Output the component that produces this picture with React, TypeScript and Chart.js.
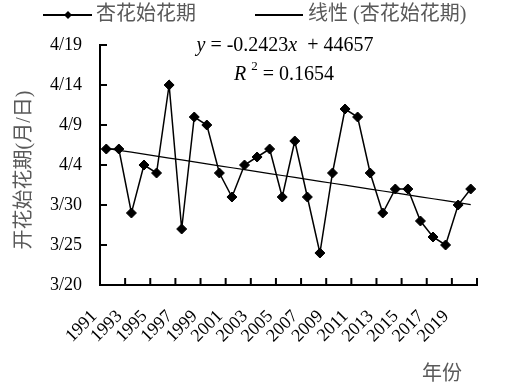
import React, { useEffect, useRef } from "react";
import { Chart, registerables } from "chart.js";

Chart.register(...registerables);

// ---- data ----
const YEARS: string[] = [
  "1991", "1992", "1993", "1994", "1995", "1996", "1997", "1998", "1999", "2000",
  "2001", "2002", "2003", "2004", "2005", "2006", "2007", "2008", "2009", "2010",
  "2011", "2012", "2013", "2014", "2015", "2016", "2017", "2018", "2019", "2020",
];
const FIRST_BLOOM: string[] = [
  "4/6", "4/6", "3/29", "4/4", "4/3", "4/14", "3/27", "4/10", "4/9", "4/3",
  "3/31", "4/4", "4/5", "4/6", "3/31", "4/7", "3/31", "3/24", "4/3", "4/11",
  "4/10", "4/3", "3/29", "4/1", "4/1", "3/28", "3/26", "3/25", "3/30", "4/1",
];
const Y_MIN = "3/20";
const Y_MAX = "4/19";
const Y_STEP_DAYS = 5;
const SERIES_NAME = "杏花始花期";
const TREND_NAME = "线性 (杏花始花期)";
const EQUATION = "y = -0.2423x + 44657";
const R2_TEXT = "0.1654";
const Y_TITLE = "开花始花期(月/日)";
const X_TITLE = "年份";

// month/day -> day number (March days as-is, April = 31 + day)
const toNum = (s: string) => {
  const [m, d] = s.split("/").map(Number);
  return m === 3 ? d : 31 + d;
};
const toLabel = (v: number) => (v <= 31 ? `3/${v}` : `4/${v - 31}`);

const VALUES = FIRST_BLOOM.map(toNum);

// least-squares trend from the data
const n = VALUES.length;
const xs = VALUES.map((_, i) => i + 1);
const mx = xs.reduce((a, b) => a + b, 0) / n;
const my = VALUES.reduce((a, b) => a + b, 0) / n;
let sxy = 0, sxx = 0;
for (let i = 0; i < n; i++) {
  sxy += (xs[i] - mx) * (VALUES[i] - my);
  sxx += (xs[i] - mx) ** 2;
}
const slope = sxy / sxx;
const intercept = my - slope * mx;
const TREND = xs.map((x) => intercept + slope * x);

const SERIF = '"Liberation Serif", "Times New Roman", serif';
const CJK = '"Liberation Serif", "Noto Sans CJK SC", sans-serif';

const decor = {
  id: "decor",
  afterDraw(chart: any) {
    const ctx: CanvasRenderingContext2D = chart.ctx;
    const xs = chart.scales.x;
    const ys = chart.scales.y;
    const { left, right, bottom } = chart.chartArea;
    ctx.save();
    ctx.strokeStyle = "#000";
    ctx.lineWidth = 2;
    // inside tick marks on y
    ys.ticks.forEach((t: any) => {
      const py = ys.getPixelForValue(t.value);
      if (Math.abs(py - bottom) < 1) return;
      ctx.beginPath();
      ctx.moveTo(left, py);
      ctx.lineTo(left + 7, py);
      ctx.stroke();
    });
    // inside tick marks on x, every two categories at boundaries
    const cat = (right - left) / YEARS.length;
    for (let i = 2; i <= YEARS.length; i += 2) {
      const px = xs.left + i * cat;
      ctx.beginPath();
      ctx.moveTo(px, bottom);
      ctx.lineTo(px, bottom - 7);
      ctx.stroke();
    }

    // legend
    ctx.lineWidth = 2;
    ctx.beginPath();
    ctx.moveTo(43, 15);
    ctx.lineTo(92, 15);
    ctx.stroke();
    ctx.fillStyle = "#000";
    ctx.beginPath();
    ctx.moveTo(68, 11);
    ctx.lineTo(72, 15);
    ctx.lineTo(68, 19);
    ctx.lineTo(64, 15);
    ctx.closePath();
    ctx.fill();
    ctx.beginPath();
    ctx.moveTo(255, 15);
    ctx.lineTo(303, 15);
    ctx.stroke();

    ctx.fillStyle = "#595959";
    ctx.font = `20px ${CJK}`;
    ctx.textBaseline = "middle";
    ctx.textAlign = "left";
    ctx.fillText(SERIES_NAME, 96, 15);
    ctx.fillText(TREND_NAME, 308, 15);

    // axis titles
    ctx.textAlign = "center";
    ctx.fillText(X_TITLE, 442, 375);
    ctx.save();
    ctx.translate(25, 170);
    ctx.rotate(-Math.PI / 2);
    ctx.fillText(Y_TITLE, 0, 0);
    ctx.restore();

    // trend equation
    ctx.fillStyle = "#000";
    ctx.textBaseline = "alphabetic";
    ctx.textAlign = "left";
    const it = `italic 20px ${SERIF}`;
    const nm = `20px ${SERIF}`;
    const drawParts = (parts: [string, string, number][], cx: number, by: number) => {
      let w = 0;
      parts.forEach(([t, f]) => {
        ctx.font = f;
        w += ctx.measureText(t).width;
      });
      let x = cx - w / 2;
      parts.forEach(([t, f, dy]) => {
        ctx.font = f;
        ctx.fillText(t, x, by + dy);
        x += ctx.measureText(t).width;
      });
    };
    const eqM = EQUATION.match(/^y = (.*)x \+ (.*)$/)!;
    drawParts(
      [
        ["y", it, 0],
        [` = ${eqM[1]}`, nm, 0],
        ["x", it, 0],
        [`  + ${eqM[2]}`, nm, 0],
      ],
      285,
      51
    );
    drawParts(
      [
        ["R ", it, 0],
        ["2", `13px ${SERIF}`, -10],
        [` = ${R2_TEXT}`, nm, 0],
      ],
      284,
      80
    );
    ctx.restore();
  },
};

export default function App() {
  const ref = useRef<HTMLCanvasElement | null>(null);
  useEffect(() => {
    if (!ref.current) return;
    const chart = new Chart(ref.current, {
      type: "line",
      data: {
        labels: YEARS,
        datasets: [
          {
            label: SERIES_NAME,
            data: VALUES,
            borderColor: "#000",
            backgroundColor: "#000",
            borderWidth: 1.5,
            pointStyle: "rectRot",
            pointRadius: 5,
            pointBorderWidth: 1,
            pointBackgroundColor: "#000",
            pointBorderColor: "#000",
            tension: 0,
            order: 1,
          },
          {
            label: TREND_NAME,
            data: TREND,
            borderColor: "#000",
            borderWidth: 1.25,
            pointRadius: 0,
            tension: 0,
            order: 2,
          },
        ],
      },
      options: {
        animation: false,
        responsive: false,
        devicePixelRatio: 1,
        layout: { padding: { left: 0, top: 45, right: 31, bottom: 0 } },
        plugins: {
          legend: { display: false },
          tooltip: { enabled: false },
        },
        scales: {
          x: {
            type: "category",
            offset: true,
            grid: { display: false, drawTicks: false },
            border: { display: true, color: "#000", width: 2 },
            afterFit: (s: any) => {
              s.height = 106;
            },
            ticks: {
              autoSkip: false,
              minRotation: 45,
              maxRotation: 45,
              padding: 21,
              labelOffset: -12,
              color: "#000",
              font: { family: SERIF, size: 18 },
              callback: (_v: any, i: number) => (i % 2 === 0 ? YEARS[i] : ""),
            },
          },
          y: {
            min: toNum(Y_MIN),
            max: toNum(Y_MAX),
            grid: { display: false, drawTicks: false },
            border: { display: true, color: "#000", width: 2 },
            afterFit: (s: any) => {
              s.width = 100;
            },
            ticks: {
              stepSize: Y_STEP_DAYS,
              padding: 18,
              color: "#000",
              font: { family: SERIF, size: 18 },
              callback: (v: any) => toLabel(Number(v)),
            },
          },
        },
      },
      plugins: [decor],
    });
    return () => chart.destroy();
  }, []);
  return (
    <div style={{ position: "fixed", left: 0, top: 0, width: 508, height: 391, background: "#fff" }}>
      <canvas ref={ref} width={508} height={391} style={{ width: 508, height: 391 }} />
    </div>
  );
}
